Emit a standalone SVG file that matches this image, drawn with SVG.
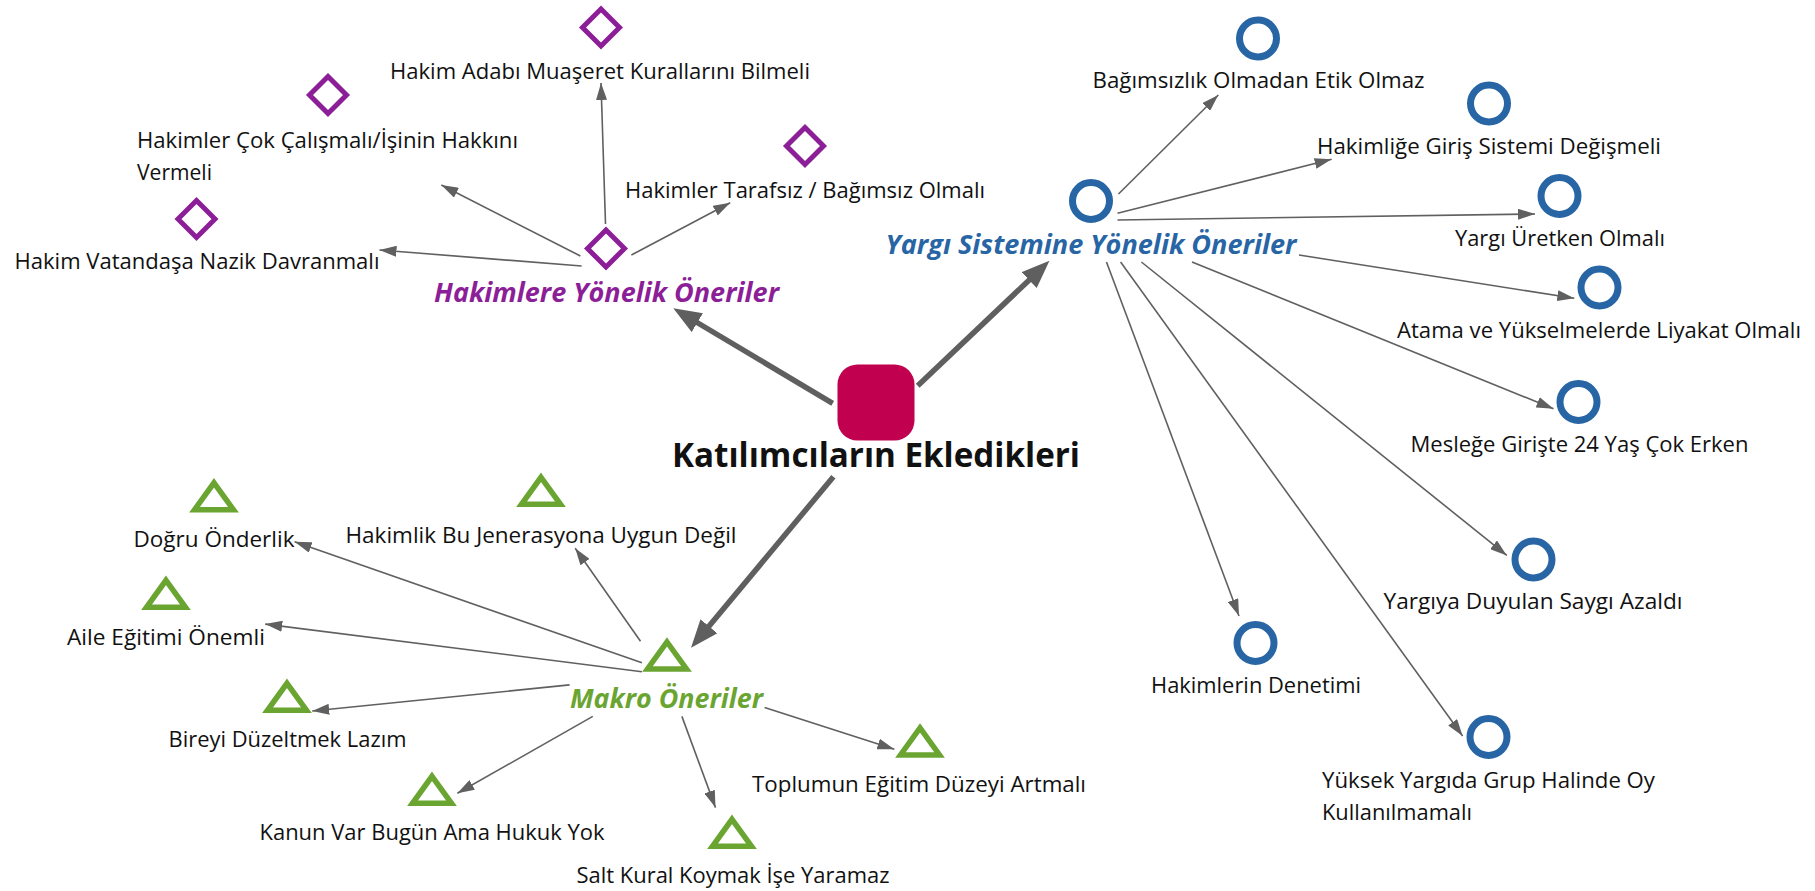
<svg xmlns="http://www.w3.org/2000/svg" xmlns:xlink="http://www.w3.org/1999/xlink" width="1815" height="891" viewBox="0 0 1815 891">
<style>
.lbl{font-family:"Open Sans","Noto Sans","DejaVu Sans",sans-serif;font-size:22px;fill:#111111}
.hub{font-family:"Open Sans","Noto Sans","DejaVu Sans",sans-serif;font-size:26px;font-weight:700;font-style:italic}
.root{font-family:"Open Sans","Noto Sans","DejaVu Sans",sans-serif;font-size:34px;font-weight:700;fill:#111111}
.pt{fill:#8C1F98}.bt{fill:#2865A5}.gt{fill:#6AA531}
.dia{fill:none;stroke:#8C1F98;stroke-width:5}
.cir{fill:none;stroke:#2865A5;stroke-width:7}
.tri{fill:none;stroke:#6AA531;stroke-width:5.5}
.thin{stroke:#606060;stroke-width:1.6;fill:none;marker-end:url(#ah)}
.thick{stroke:#5F5F5F;stroke-width:5.5;fill:none;marker-end:url(#ahb)}
</style>
<defs>
<marker id="ah" markerUnits="userSpaceOnUse" viewBox="0 0 17 11" markerWidth="17" markerHeight="11" refX="17" refY="5.5" orient="auto"><path d="M0,0 L17,5.5 L0,11 Z" fill="#606060"/></marker>
<marker id="ahb" markerUnits="userSpaceOnUse" viewBox="0 0 28 22" markerWidth="28" markerHeight="22" refX="14" refY="11" orient="auto"><path d="M0,0 L28,11 L0,22 Z" fill="#5F5F5F"/></marker>
<path id="dshape" d="M0,-18.5 L18.5,0 L0,18.5 L-18.5,0 Z"/>
<path id="tshape" d="M0,-13.5 L19.5,13.5 L-19.5,13.5 Z"/>
</defs>
<rect width="1815" height="891" fill="#ffffff"/>

<g id="connectors">
<line class="thick" x1="832.7" y1="403.3" x2="685.3" y2="315.5"/>
<line class="thick" x1="917.7" y1="385.7" x2="1039.3" y2="270.4"/>
<line class="thick" x1="833.4" y1="476.7" x2="700" y2="637"/>
<line class="thin" x1="605.5" y1="224" x2="601" y2="83"/>
<line class="thin" x1="580.4" y1="256" x2="441.3" y2="185"/>
<line class="thin" x1="631.4" y1="255" x2="730.2" y2="202.7"/>
<line class="thin" x1="581.6" y1="266" x2="379.5" y2="250"/>
<line class="thin" x1="1118.5" y1="194" x2="1218.3" y2="95"/>
<line class="thin" x1="1117.5" y1="213.3" x2="1331.6" y2="159.3"/>
<line class="thin" x1="1117.5" y1="220" x2="1535" y2="214"/>
<line class="thin" x1="1299" y1="255" x2="1574.3" y2="298.3"/>
<line class="thin" x1="1192" y1="262" x2="1553.5" y2="408.7"/>
<line class="thin" x1="1141.4" y1="262" x2="1506.8" y2="555.4"/>
<line class="thin" x1="1120.6" y1="262" x2="1462.6" y2="736"/>
<line class="thin" x1="1106.5" y1="262" x2="1239" y2="616"/>
<line class="thin" x1="641.9" y1="662.7" x2="294.6" y2="541.8"/>
<line class="thin" x1="640.5" y1="641.3" x2="575.2" y2="548.2"/>
<line class="thin" x1="641.9" y1="671.7" x2="265.2" y2="624.1"/>
<line class="thin" x1="569.6" y1="684.9" x2="312.2" y2="711"/>
<line class="thin" x1="592.8" y1="716.4" x2="457.4" y2="793.3"/>
<line class="thin" x1="681.9" y1="716.4" x2="715.5" y2="807.6"/>
<line class="thin" x1="764.6" y1="707.5" x2="894.4" y2="749.3"/>
</g>

<g id="root">
<rect x="837.5" y="364.5" width="77" height="76" rx="20" ry="20" fill="#C1004F"/>
<text class="root" x="876" y="467" text-anchor="middle" textLength="408" lengthAdjust="spacingAndGlyphs">Katılımcıların Ekledikleri</text>
</g>

<g id="hub-hakimlere">
<use xlink:href="#dshape" class="dia" x="606" y="248.5"/>
<text class="hub pt" x="606.5" y="302" text-anchor="middle" textLength="345" lengthAdjust="spacingAndGlyphs">Hakimlere Yönelik Öneriler</text>
</g>
<g id="n-adabi">
<use xlink:href="#dshape" class="dia" x="601" y="27.5"/>
<text class="lbl" x="600" y="79" text-anchor="middle" textLength="420" lengthAdjust="spacingAndGlyphs">Hakim Adabı Muaşeret Kurallarını Bilmeli</text>
</g>
<g id="n-cok">
<use xlink:href="#dshape" class="dia" x="328" y="95"/>
<text class="lbl" x="137" y="147.5" textLength="381" lengthAdjust="spacingAndGlyphs">Hakimler Çok Çalışmalı/İşinin Hakkını</text>
<text class="lbl" x="137" y="180" textLength="75" lengthAdjust="spacingAndGlyphs">Vermeli</text>
</g>
<g id="n-tarafsiz">
<use xlink:href="#dshape" class="dia" x="805" y="146"/>
<text class="lbl" x="805" y="197.5" text-anchor="middle" textLength="360" lengthAdjust="spacingAndGlyphs">Hakimler Tarafsız / Bağımsız Olmalı</text>
</g>
<g id="n-vatandasa">
<use xlink:href="#dshape" class="dia" x="196.5" y="219"/>
<text class="lbl" x="197" y="269" text-anchor="middle" textLength="365" lengthAdjust="spacingAndGlyphs">Hakim Vatandaşa Nazik Davranmalı</text>
</g>

<g id="hub-yargi">
<circle class="cir" cx="1091" cy="201" r="18.5"/>
<text class="hub bt" x="1091" y="254" text-anchor="middle" textLength="411" lengthAdjust="spacingAndGlyphs">Yargı Sistemine Yönelik Öneriler</text>
</g>
<g id="n-bagimsizlik">
<circle class="cir" cx="1258" cy="38.5" r="18.5"/>
<text class="lbl" x="1258.5" y="88" text-anchor="middle" textLength="332" lengthAdjust="spacingAndGlyphs">Bağımsızlık Olmadan Etik Olmaz</text>
</g>
<g id="n-hakimlige">
<circle class="cir" cx="1489" cy="103.5" r="18.5"/>
<text class="lbl" x="1489" y="154" text-anchor="middle" textLength="344" lengthAdjust="spacingAndGlyphs">Hakimliğe Giriş Sistemi Değişmeli</text>
</g>
<g id="n-uretken">
<circle class="cir" cx="1559.5" cy="196" r="18.5"/>
<text class="lbl" x="1560" y="246" text-anchor="middle" textLength="210" lengthAdjust="spacingAndGlyphs">Yargı Üretken Olmalı</text>
</g>
<g id="n-atama">
<circle class="cir" cx="1599.5" cy="287.5" r="18.5"/>
<text class="lbl" x="1599" y="338" text-anchor="middle" textLength="404" lengthAdjust="spacingAndGlyphs">Atama ve Yükselmelerde Liyakat Olmalı</text>
</g>
<g id="n-meslege">
<circle class="cir" cx="1578.5" cy="402" r="18.5"/>
<text class="lbl" x="1579.5" y="451.5" text-anchor="middle" textLength="338" lengthAdjust="spacingAndGlyphs">Mesleğe Girişte 24 Yaş Çok Erken</text>
</g>
<g id="n-saygi">
<circle class="cir" cx="1533.5" cy="559.5" r="18.5"/>
<text class="lbl" x="1533" y="609" text-anchor="middle" textLength="299" lengthAdjust="spacingAndGlyphs">Yargıya Duyulan Saygı Azaldı</text>
</g>
<g id="n-denetim">
<circle class="cir" cx="1255.5" cy="643" r="18.5"/>
<text class="lbl" x="1256" y="693" text-anchor="middle" textLength="210" lengthAdjust="spacingAndGlyphs">Hakimlerin Denetimi</text>
</g>
<g id="n-yuksek">
<circle class="cir" cx="1488.5" cy="737" r="18.5"/>
<text class="lbl" x="1322" y="788" textLength="333" lengthAdjust="spacingAndGlyphs">Yüksek Yargıda Grup Halinde Oy</text>
<text class="lbl" x="1322" y="820" textLength="150" lengthAdjust="spacingAndGlyphs">Kullanılmamalı</text>
</g>

<g id="hub-makro">
<use xlink:href="#tshape" class="tri" x="667" y="655.5"/>
<text class="hub gt" x="666.5" y="707.5" text-anchor="middle" textLength="193" lengthAdjust="spacingAndGlyphs">Makro Öneriler</text>
</g>
<g id="n-dogru">
<use xlink:href="#tshape" class="tri" x="214" y="496.3"/>
<text class="lbl" x="214" y="546.5" text-anchor="middle" textLength="161" lengthAdjust="spacingAndGlyphs">Doğru Önderlik</text>
</g>
<g id="n-jenerasyon">
<use xlink:href="#tshape" class="tri" x="541" y="490.8"/>
<text class="lbl" x="541" y="543" text-anchor="middle" textLength="391" lengthAdjust="spacingAndGlyphs">Hakimlik Bu Jenerasyona Uygun Değil</text>
</g>
<g id="n-aile">
<use xlink:href="#tshape" class="tri" x="166" y="593.8"/>
<text class="lbl" x="166" y="645" text-anchor="middle" textLength="198" lengthAdjust="spacingAndGlyphs">Aile Eğitimi Önemli</text>
</g>
<g id="n-bireyi">
<use xlink:href="#tshape" class="tri" x="287" y="696.8"/>
<text class="lbl" x="287.5" y="747" text-anchor="middle" textLength="238" lengthAdjust="spacingAndGlyphs">Bireyi Düzeltmek Lazım</text>
</g>
<g id="n-kanun">
<use xlink:href="#tshape" class="tri" x="432" y="789.8"/>
<text class="lbl" x="432" y="840" text-anchor="middle" textLength="345" lengthAdjust="spacingAndGlyphs">Kanun Var Bugün Ama Hukuk Yok</text>
</g>
<g id="n-salt">
<use xlink:href="#tshape" class="tri" x="732" y="832.8"/>
<text class="lbl" x="733" y="883" text-anchor="middle" textLength="313" lengthAdjust="spacingAndGlyphs">Salt Kural Koymak İşe Yaramaz</text>
</g>
<g id="n-toplum">
<use xlink:href="#tshape" class="tri" x="920" y="741.4"/>
<text class="lbl" x="919" y="791.5" text-anchor="middle" textLength="334" lengthAdjust="spacingAndGlyphs">Toplumun Eğitim Düzeyi Artmalı</text>
</g>
</svg>
